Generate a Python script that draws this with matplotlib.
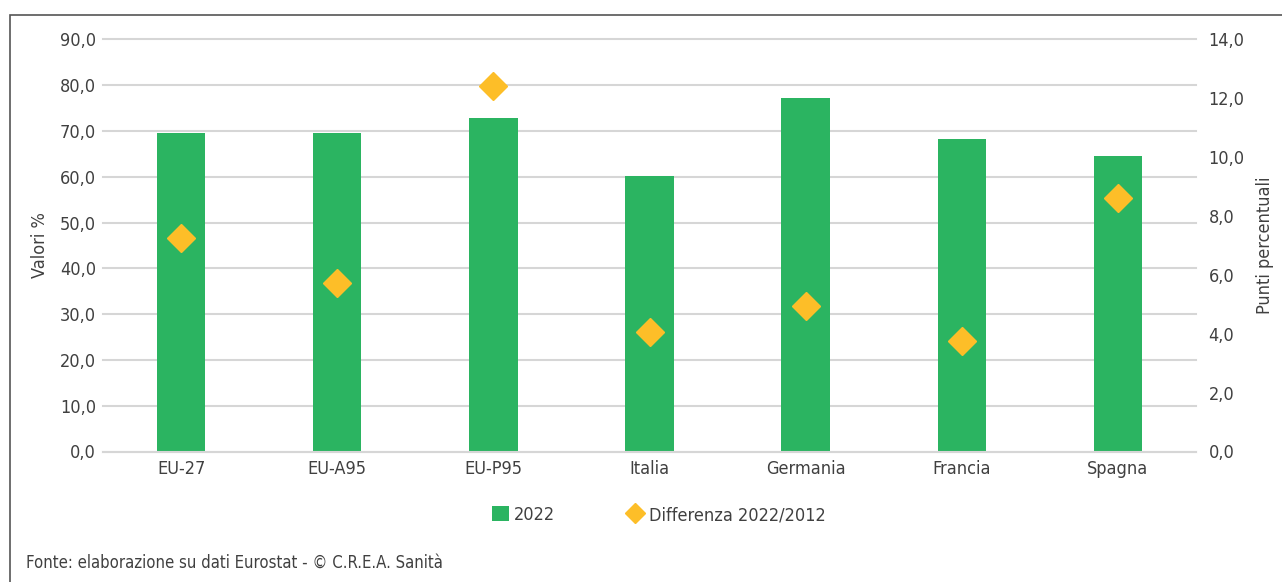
import matplotlib
matplotlib.use("Agg")
import matplotlib.pyplot as plt
from matplotlib.patches import Patch, Rectangle
from matplotlib.lines import Line2D
from matplotlib.ticker import FuncFormatter, MultipleLocator
import warnings
warnings.filterwarnings("ignore")

categories = ["EU-27", "EU-A95", "EU-P95", "Italia", "Germania", "Francia", "Spagna"]
values_2022 = [69.6, 69.6, 72.8, 60.2, 77.1, 68.3, 64.6]
diff_2022_2012 = [7.26, 5.71, 12.43, 4.05, 4.93, 3.76, 8.62]

plt.rcParams['font.family'] = ['DejaVu Sans']
plt.rcParams['font.stretch'] = 'condensed'

GREEN = "#2BB461"
YELLOW = "#FDBE28"
TXT = "#404040"
GRID = "#D6D6D6"

W, H = 1282, 582
fig = plt.figure(figsize=(W / 100, H / 100), dpi=100)

# outer border
fig.add_artist(Rectangle((10 / W, -0.05), 1.2, 1 - 15 / H + 0.05, transform=fig.transFigure,
                         fill=False, edgecolor="#555555", linewidth=1.2))

left, right, top, bottom = 103, 1196, 39.3, 451.5
ax = fig.add_axes([left / W, 1 - bottom / H, (right - left) / W, (bottom - top) / H])
x = list(range(len(categories)))
ax.bar(x, values_2022, width=0.31, color=GREEN, zorder=2)
ax.set_ylim(0, 90)
ax.set_xlim(-0.5, len(categories) - 0.5)
ax.yaxis.set_major_locator(MultipleLocator(10))
ax.yaxis.set_major_formatter(FuncFormatter(lambda v, p: f"{v:.1f}".replace(".", ",")))
ax.grid(axis="y", color=GRID, linewidth=1.5, zorder=0)
ax.set_axisbelow(True)
for s in ["top", "right", "left"]:
    ax.spines[s].set_visible(False)
ax.spines["bottom"].set_color(GRID)
ax.spines["bottom"].set_linewidth(1.5)
ax.set_xticks(x)
ax.set_xticklabels(categories)
ax.tick_params(axis="both", length=0, labelsize=13, colors=TXT, pad=5)
ax.tick_params(axis="x", pad=6)
ax.set_ylabel("Valori %", fontsize=13, color=TXT, labelpad=8)
for gl in ax.get_ygridlines():
    gl.set_clip_on(False)

ax2 = ax.twinx()
ax2.plot(x, diff_2022_2012, linestyle="none", marker="D", markersize=14.5,
         color=YELLOW, zorder=3)
ax2.set_ylim(0, 14)
ax2.yaxis.set_major_locator(MultipleLocator(2))
ax2.yaxis.set_major_formatter(FuncFormatter(lambda v, p: f"{v:.1f}".replace(".", ",")))
for s in ["top", "right", "left", "bottom"]:
    ax2.spines[s].set_visible(False)
ax2.tick_params(axis="y", length=0, labelsize=13, colors=TXT, pad=9)
ax2.set_ylabel("Punti percentuali", fontsize=13, color=TXT, labelpad=8)

handles = [Patch(facecolor=GREEN, edgecolor="none", label="2022"),
           Line2D([], [], linestyle="none", marker="D", markersize=10.5, color=YELLOW,
                  label="Differenza 2022/2012")]
fig.legend(handles=handles, loc="center", bbox_to_anchor=(659 / W, 1 - 515 / H), ncol=2,
           frameon=False, fontsize=13, labelcolor=TXT, handlelength=0.9, handleheight=0.9,
           handletextpad=0.3, columnspacing=4.0)

fig.text(26 / W, 1 - 563 / H, "Fonte: elaborazione su dati Eurostat - © C.R.E.A. Sanità",
         fontsize=12, color=TXT, va="center", ha="left")

fig.savefig("out.png", dpi=100)
